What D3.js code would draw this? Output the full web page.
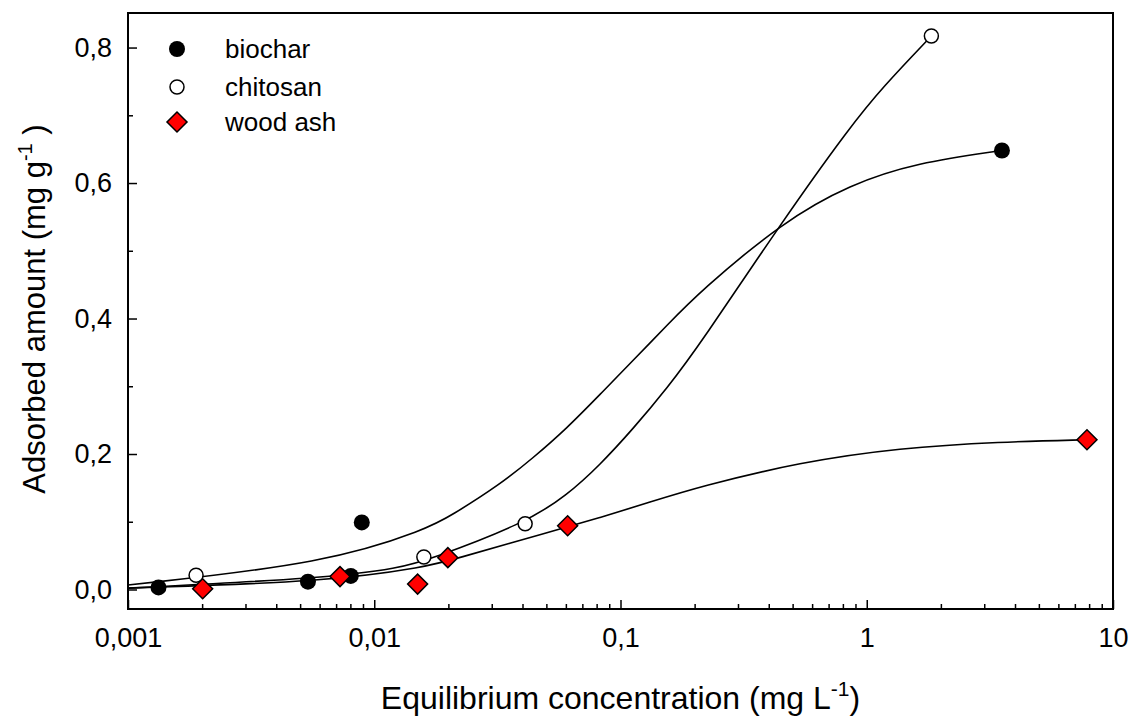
<!DOCTYPE html>
<html>
<head>
<meta charset="utf-8">
<script src="https://cdn.jsdelivr.net/npm/d3@7"></script>
<style>
  body { margin: 0; background: #fff; }
  svg text { font-family: "Liberation Sans", Arial, sans-serif; fill: #000; }
</style>
</head>
<body>
<svg id="chart" width="1133" height="724"></svg>
<script>
// measured points
const biocharX = [0.00133, 0.00538, 0.00803, 0.0089, 3.54];
const biocharY = [0.003, 0.0115, 0.020, 0.099, 0.648];
const chitosanX = [0.00189, 0.0159, 0.041, 1.83];
const chitosanY = [0.021, 0.048, 0.097, 0.817];
const woodX = [0.00201, 0.00726, 0.0150, 0.0199, 0.061, 7.84];
const woodY = [0.001, 0.019, 0.008, 0.047, 0.094, 0.221];

// fitted curves
const biocharFitX = [0.001, 0.00649, 0.01653, 0.0203, 0.0324, 0.0441, 0.0606, 0.0826, 0.1124, 0.1545, 0.2104, 0.457, 0.855, 1.60, 3.54];
const biocharFitY = [0.0066, 0.039, 0.090, 0.108, 0.155, 0.194, 0.238, 0.288, 0.338, 0.390, 0.440, 0.543, 0.598, 0.630, 0.648];
const chitosanFitX = [0.001, 0.00649, 0.01272, 0.01653, 0.041, 0.0606, 0.0826, 0.1124, 0.1545, 0.2104, 0.457, 0.855, 1.164, 1.83];
const chitosanFitY = [0.002, 0.017, 0.032, 0.0435, 0.098, 0.139, 0.184, 0.237, 0.297, 0.362, 0.545, 0.683, 0.742, 0.817];
const woodFitX = [0.001, 0.00649, 0.01653, 0.0203, 0.0517, 0.0826, 0.1318, 0.2104, 0.536, 1.364, 3.475, 7.84];
const woodFitY = [0.002, 0.0115, 0.034, 0.043, 0.085, 0.106, 0.129, 0.152, 0.188, 0.209, 0.218, 0.221];

const xTicks = [0.001, 0.01, 0.1, 1, 10];
const yTicks = [0, 0.2, 0.4, 0.6, 0.8];
const yMinor = [0.1, 0.3, 0.5, 0.7];
const legendNames = ["biochar", "chitosan", "wood ash"];

const svg = d3.select("#chart");
const plotL = 128, plotR = 1113, plotT = 13, plotB = 609;

const x = d3.scaleLog().domain([0.001, 10]).range([plotL, plotR]);
const y = d3.scaleLinear().domain([-0.0288, 0.851]).range([plotB, plotT]);

const comma = s => s.replace(".", ",");

// minor x ticks 2..9 in each decade
let xMinor = [];
xTicks.slice(0, -1).forEach(d => {
    for (let k = 2; k <= 9; k++) xMinor.push(d * k);
});

// axes (ticks point inward)
const gx = svg.append("g").attr("transform", `translate(0,${plotB})`);
gx.call(d3.axisBottom(x).tickValues(xTicks).tickSize(-9).tickSizeOuter(0).tickPadding(19)
    .tickFormat(d => comma(String(d))));
gx.append("g").call(d3.axisBottom(x).tickValues(xMinor).tickSize(-5).tickSizeOuter(0).tickFormat(""));

const gy = svg.append("g").attr("transform", `translate(${plotL},0)`);
gy.call(d3.axisLeft(y).tickValues(yTicks).tickSize(-9).tickSizeOuter(0).tickPadding(16)
    .tickFormat(d => comma(d3.format(".1f")(d))));
gy.append("g").call(d3.axisLeft(y).tickValues(yMinor).tickSize(-5).tickSizeOuter(0).tickFormat(""));

svg.selectAll(".domain").remove();
svg.selectAll(".tick line").attr("stroke", "#000").attr("stroke-width", 1.5);
svg.selectAll(".tick text").style("font-size", "27px").attr("fill", "#000");

// frame
svg.append("rect")
    .attr("x", plotL).attr("y", plotT)
    .attr("width", plotR - plotL).attr("height", plotB - plotT)
    .attr("fill", "none").attr("stroke", "#000").attr("stroke-width", 2);

// fitted lines
const line = d3.line().x(d => x(d[0])).y(d => y(d[1])).curve(d3.curveBasis);
const fits = [
    d3.zip(biocharFitX, biocharFitY),
    d3.zip(chitosanFitX, chitosanFitY),
    d3.zip(woodFitX, woodFitY)
];
svg.append("g").selectAll("path")
    .data(fits)
    .enter().append("path")
    .attr("d", line)
    .attr("fill", "none")
    .attr("stroke", "#000")
    .attr("stroke-width", 1.6);

// markers
const diamond = d3.symbol().type(d3.symbolSquare).size(200);

svg.append("g").selectAll("circle")
    .data(d3.zip(chitosanX, chitosanY))
    .enter().append("circle")
    .attr("cx", d => x(d[0])).attr("cy", d => y(d[1])).attr("r", 7)
    .attr("fill", "#fff").attr("stroke", "#000").attr("stroke-width", 1.5);

svg.append("g").selectAll("circle")
    .data(d3.zip(biocharX, biocharY))
    .enter().append("circle")
    .attr("cx", d => x(d[0])).attr("cy", d => y(d[1])).attr("r", 8)
    .attr("fill", "#000");

svg.append("g").selectAll("path")
    .data(d3.zip(woodX, woodY))
    .enter().append("path")
    .attr("d", diamond)
    .attr("transform", d => `translate(${x(d[0])},${y(d[1])}) rotate(45)`)
    .attr("fill", "#ff0000").attr("stroke", "#000").attr("stroke-width", 1.5);

// legend
const leg = svg.append("g");
const legY = [49, 87, 122];
leg.append("circle").attr("cx", 177).attr("cy", legY[0]).attr("r", 8).attr("fill", "#000");
leg.append("circle").attr("cx", 177).attr("cy", legY[1]).attr("r", 7)
    .attr("fill", "#fff").attr("stroke", "#000").attr("stroke-width", 1.5);
leg.append("path").attr("d", diamond)
    .attr("transform", `translate(177,${legY[2]}) rotate(45)`)
    .attr("fill", "#ff0000").attr("stroke", "#000").attr("stroke-width", 1.5);
leg.selectAll("text")
    .data(legendNames)
    .enter().append("text")
    .attr("x", 225).attr("y", (d, i) => legY[i] + 9)
    .style("font-size", "26px")
    .text(d => d);

// axis titles
const xt = svg.append("text")
    .attr("x", (plotL + plotR) / 2).attr("y", 709)
    .attr("text-anchor", "middle")
    .style("font-size", "32px");
xt.append("tspan").text("Equilibrium concentration (mg L");
xt.append("tspan").attr("dy", -13).style("font-size", "21px").text("-1");
xt.append("tspan").attr("dy", 13).text(")");

const yt = svg.append("text")
    .attr("transform", `translate(45,${(plotT + plotB) / 2 - 2}) rotate(-90)`)
    .attr("text-anchor", "middle")
    .style("font-size", "31px");
yt.append("tspan").text("Adsorbed amount (mg g");
yt.append("tspan").attr("dy", -13).style("font-size", "20px").text("-1");
yt.append("tspan").attr("dy", 13).text(" )");
</script>
</body>
</html>
